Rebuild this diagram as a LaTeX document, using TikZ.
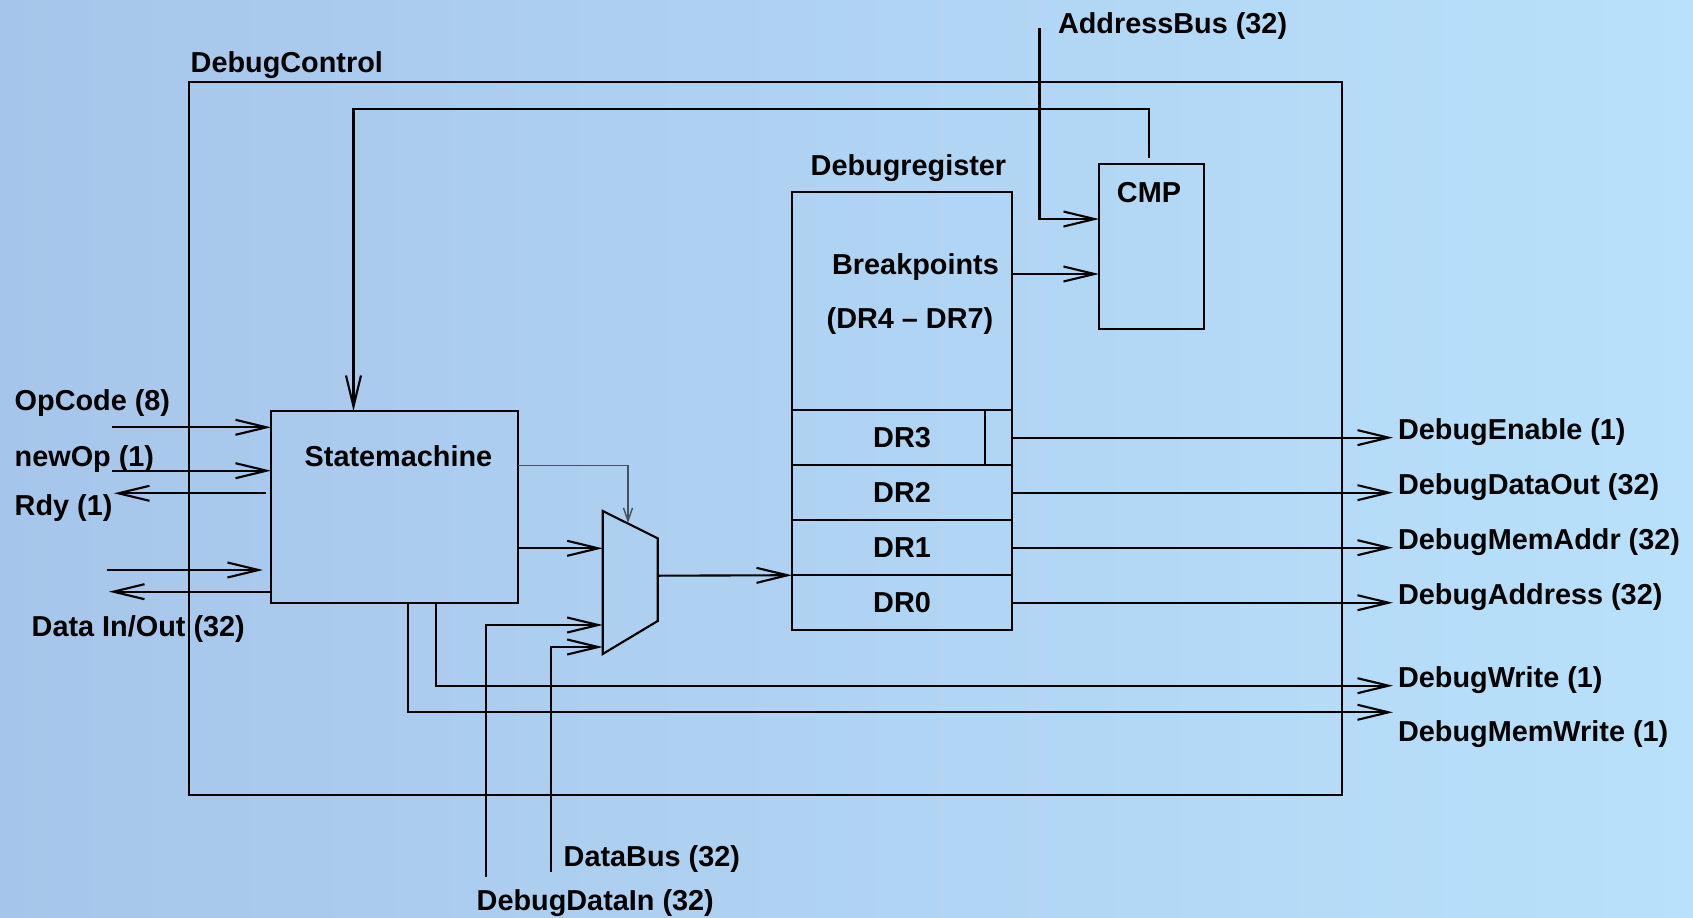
\documentclass[tikz,border=0pt]{standalone}
\usepackage{fontspec}
\setsansfont{Liberation Sans}
\usepackage{xcolor}
\definecolor{bgleft}{HTML}{A6C5EA}
\definecolor{bgright}{HTML}{B9E1FB}
\definecolor{selwire}{HTML}{46515C}
\usepackage{tikz}
\usetikzlibrary{positioning,arrows.meta,calc}

\begin{document}
\begin{tikzpicture}[x=0.01cm, y=-0.01cm,
    lbl/.style={font=\sffamily\bfseries\fontsize{8.2}{10}\selectfont, inner sep=0pt},
    blk/.style={draw, line width=0.6pt, inner sep=0pt, outer sep=0pt},
    reg/.style={blk, lbl, minimum width=2.2cm, minimum height=0.55cm},
    wire/.style={line width=0.6pt},
    sig/.style={wire, -{Straight Barb[length=0.31cm, width=0.15cm]}},
    sel/.style={line width=0.4pt, draw=selwire, -{Straight Barb[length=0.13cm, width=0.09cm]}}]
  \shade[left color=bgleft, right color=bgright] (0,0) rectangle (1693,918);
  \useasboundingbox (0,0) rectangle (1693,918);

  % blocks
  \node[blk, anchor=north west, minimum width=11.52cm, minimum height=7.13cm] (ctrl) at (189,82) {};
  \node[lbl, anchor=base west] (ctrltxt) at (190,72) {DebugControl};
  \node[blk, anchor=north west, minimum width=2.47cm, minimum height=1.92cm] (sm) at (271,411) {};
  \node[lbl, anchor=base west] (smtxt) at (304,466) {Statemachine};
  \node[blk, anchor=north west, minimum width=2.2cm, minimum height=2.18cm] (bp) at (792,192) {};
  \node[lbl, anchor=base west] (regtxt) at (810,175.7) {Debugregister};
  \node[lbl, anchor=base] (bptxt) at (915.5,274) {Breakpoints};
  \node[lbl, anchor=base] (bprange) at (910,328.3) {(DR4 – DR7)};
  \node[reg, below=0cm of bp] (dr3) {DR3};
  \node[reg, below=0cm of dr3] (dr2) {DR2};
  \node[reg, below=0cm of dr2] (dr1) {DR1};
  \node[reg, below=0cm of dr1] (dr0) {DR0};
  \draw[wire] ([xshift=-0.272cm]dr3.north east) -- ([xshift=-0.272cm]dr3.south east);
  \node[blk, anchor=north west, minimum width=1.05cm, minimum height=1.65cm] (cmp) at (1099,164) {};
  \node[lbl, anchor=base] (cmptxt) at (1149,202.3) {CMP};

  % multiplexer
  \coordinate (mux-nw) at (602.7,511);
  \coordinate (mux-ne) at (657.7,538.3);
  \coordinate (mux-se) at (657.7,621);
  \coordinate (mux-sw) at (602.7,654);
  \draw[wire] (mux-nw) -- (mux-ne) -- (mux-se) -- (mux-sw) -- cycle;
  \coordinate (muxout) at (657.7,575.7);
  \coordinate (muxsel) at (628,523);

  % address bus and compare
  \coordinate (abus) at (1039.5,28);
  \node[lbl, anchor=base west] (abustxt) at (1057.3,33.3) {AddressBus (32)};
  \draw[sig] (abus) |- ([yshift=-0.55cm]cmp.north west);
  \coordinate (bpy) at (0,274);
  \draw[sig] (bp.east |- bpy) -- (cmp.west |- bpy);
  \coordinate (fbtop) at (353.5,109);
  \draw[sig, shorten <=0.06cm] ([xshift=-0.025cm]cmp.north) |- (fbtop) -- (fbtop |- sm.north);

  % left side
  \coordinate (opin) at (112,427.3);
  \coordinate (newin) at (112,470.7);
  \coordinate (rdyout) at (114,493.3);
  \coordinate (datin) at (106.7,570);
  \coordinate (datout) at (109,591.7);
  \draw[sig] (opin) -- (sm.west |- opin);
  \draw[sig] (newin) -- (sm.west |- newin);
  \draw[sig, shorten <=0.05cm] (sm.west |- rdyout) -- (rdyout);
  \draw[sig, shorten >=0.08cm] (datin) -- (sm.west |- datin);
  \draw[sig] (sm.west |- datout) -- (datout);
  \node[lbl, anchor=base west] (optxt) at (14,410.7) {OpCode (8)};
  \node[lbl, anchor=base west] (newtxt) at (14,466.7) {newOp (1)};
  \node[lbl, anchor=base west] (rdytxt) at (14,515) {Rdy (1)};
  \node[lbl, anchor=base west] (dattxt) at (31,636) {Data In/Out (32)};

  % into the multiplexer
  \coordinate (sely) at (0,465.7);
  \draw[sel] (sm.east |- sely) -| (muxsel);
  \coordinate (smy) at (0,548.3);
  \draw[sig] (sm.east |- smy) -- (mux-nw |- smy);
  \coordinate (ddin) at (485.7,876.7);
  \coordinate (ddy) at (0,625);
  \draw[sig] (ddin) |- (mux-nw |- ddy);
  \coordinate (dbus) at (551,871.7);
  \coordinate (dby) at (0,647);
  \draw[sig] (dbus) |- (mux-nw |- dby);
  \node[lbl, anchor=base west] (dbustxt) at (563,866.7) {DataBus (32)};
  \node[lbl, anchor=base west] (ddintxt) at (476,910.7) {DebugDataIn (32)};
  \draw[sig] (muxout) -- (dr0.north west);

  % outputs
  \coordinate (outx) at (1393,0);
  \draw[sig] (dr3.east) -- (dr3.east -| outx) node[lbl, anchor=base west, xshift=0.04cm, yshift=-0.02cm] (enatxt) {DebugEnable (1)};
  \draw[sig] (dr2.east) -- (dr2.east -| outx) node[lbl, anchor=base west, xshift=0.04cm, yshift=-0.02cm] (dotxt) {DebugDataOut (32)};
  \draw[sig] (dr1.east) -- (dr1.east -| outx) node[lbl, anchor=base west, xshift=0.04cm, yshift=-0.02cm] (matxt) {DebugMemAddr (32)};
  \draw[sig] (dr0.east) -- (dr0.east -| outx) node[lbl, anchor=base west, xshift=0.04cm, yshift=-0.02cm] (adtxt) {DebugAddress (32)};
  \coordinate (wry) at (435.7,685.7);
  \coordinate (mwy) at (408.3,712.3);
  \draw[sig] (sm.south -| wry) |- (outx |- wry) node[lbl, anchor=base west, xshift=0.04cm, yshift=-0.015cm] (wrtxt) {DebugWrite (1)};
  \draw[sig] (sm.south -| mwy) |- (outx |- mwy) node[lbl, anchor=base west, xshift=0.04cm, yshift=-0.29cm] (mwtxt) {DebugMemWrite (1)};
\end{tikzpicture}
\end{document}
